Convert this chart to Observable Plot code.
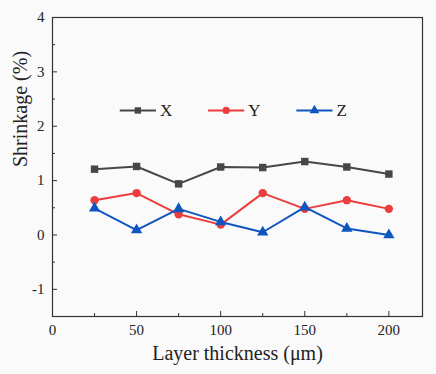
<!DOCTYPE html>
<html><head><meta charset="utf-8">
<script src="https://cdn.jsdelivr.net/npm/d3@7"></script>
<script src="https://cdn.jsdelivr.net/npm/@observablehq/plot@0.6"></script>
<style>
html,body{margin:0;padding:0;background:#fafafa;}
#chart{width:436px;height:374px;}
#chart svg text{font-family:'Liberation Serif','Times New Roman',serif !important;}
</style></head>
<body><div id="chart"></div>
<script>
const thickness = [25, 50, 75, 100, 125, 150, 175, 200];
const shrinkX = [1.21, 1.26, 0.94, 1.25, 1.24, 1.35, 1.25, 1.12];
const shrinkY = [0.64, 0.77, 0.38, 0.19, 0.77, 0.48, 0.64, 0.48];
const shrinkZ = [0.49, 0.09, 0.48, 0.24, 0.05, 0.51, 0.12, 0.00];
const seriesNames = ["X", "Y", "Z"];
const seriesColors = ["#474747", "#ec3d3d", "#0f55c0"];
const seriesSymbols = ["square", "circle", "triangle"];
const xTicks = [0, 50, 100, 150, 200];
const xMinor = [25, 75, 125, 175];
const yTicks = [-1, 0, 1, 2, 3, 4];
const yMinor = [-0.5, 0.5, 1.5, 2.5, 3.5];

const values = [shrinkX, shrinkY, shrinkZ];
const data = [];
seriesNames.forEach((s, i) => thickness.forEach((t, j) => data.push({s, t, v: values[i][j]})));

const legendY = 2.29;
const legend = seriesNames.map((s, i) => ({s, x1: 40 + i*52.5, x2: 61.5 + i*52.5}));

const colorOf = s => seriesColors[seriesNames.indexOf(s)];
const font = "'Liberation Serif', 'Times New Roman', serif";

const plot = Plot.plot({
  width: 436, height: 374,
  marginLeft: 52, marginRight: 14, marginTop: 17, marginBottom: 58,
  style: {fontFamily: font, background: "#fafafa", color: "#222"},
  x: {domain: [0, 220]},
  y: {domain: [-1.5, 4]},
  marks: [
    Plot.frame({stroke: "#333", strokeWidth: 1.2}),
    Plot.axisX({ticks: xTicks, tickSize: -5, tickPadding: 13, fontSize: 15, label: null, tickFormat: d => String(d), stroke: "#333"}),
    Plot.axisX({ticks: xMinor, tickSize: -3, tickFormat: () => "", label: null, stroke: "#333"}),
    Plot.axisY({ticks: yTicks, tickSize: -5, tickPadding: 13, fontSize: 15, label: null, tickFormat: d => d < 0 ? "-" + Math.abs(d) : String(d), stroke: "#333"}),
    Plot.axisY({ticks: yMinor, tickSize: -3, tickFormat: () => "", label: null, stroke: "#333"}),
    Plot.line(data, {x: "t", y: "v", z: "s", stroke: d => colorOf(d.s), strokeWidth: 2}),
    Plot.dot(data, {x: "t", y: "v", symbol: d => seriesSymbols[seriesNames.indexOf(d.s)], fill: d => colorOf(d.s), stroke: "none", r: 4.2}),
    Plot.link(legend, {x1: "x1", x2: "x2", y1: legendY, y2: legendY, stroke: d => colorOf(d.s), strokeWidth: 2}),
    Plot.dot(legend, {x: d => (d.x1 + d.x2)/2, y: legendY, symbol: d => seriesSymbols[seriesNames.indexOf(d.s)], fill: d => colorOf(d.s), stroke: "none", r: 3.6}),
    Plot.text(legend, {x: "x2", y: legendY, text: "s", textAnchor: "start", dx: 4, fontSize: 17, fill: "#222"}),
    Plot.text(["Layer thickness (μm)"], {frameAnchor: "bottom", dy: 43, fontSize: 20, fill: "#222"}),
    Plot.text(["Shrinkage (%)"], {frameAnchor: "left", dx: -32, rotate: -90, fontSize: 20, fill: "#222"})
  ]
});
plot.style.overflow = "visible";
document.getElementById("chart").append(plot);
</script></body></html>
